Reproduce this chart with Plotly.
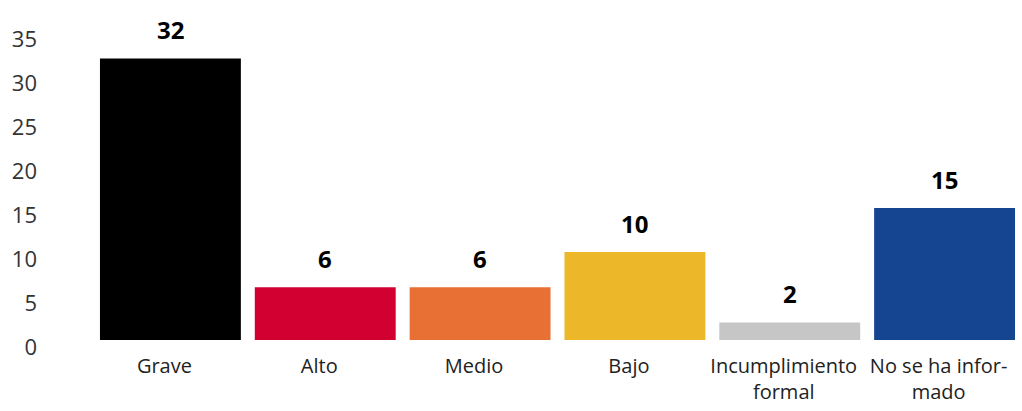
import plotly.graph_objects as go

categories = ["Grave", "Alto", "Medio", "Bajo", "Incumplimiento<br>formal", "No se ha infor-<br>mado"]
values = [32, 6, 6, 10, 2, 15]
colors = ["#000000", "#D10031", "#E87035", "#ECB82A", "#C6C6C6", "#154491"]
y_ticks = [0, 5, 10, 15, 20, 25, 30, 35]

fig = go.Figure(
    go.Bar(
        x=categories,
        y=values,
        marker=dict(color=colors, line=dict(width=0)),
        hoverinfo="skip",
    )
)

# value labels above bars
for cat, val in zip(categories, values):
    fig.add_annotation(
        x=cat, y=val,
        text="<b>%d</b>" % val,
        showarrow=False,
        yanchor="bottom",
        yshift=10,
        font=dict(family="Open Sans", size=24, color="#000000"),
    )

fig.update_layout(
    width=1022,
    height=411,
    margin=dict(l=93, r=0, t=32, b=71),
    bargap=0.09,
    plot_bgcolor="white",
    paper_bgcolor="white",
    showlegend=False,
    font=dict(family="Open Sans", color="#222222"),
)

fig.update_xaxes(
    showgrid=False,
    showline=False,
    ticks="",
    automargin=False,
    ticklabelstandoff=12,
    ticklabelshift=-6,
    tickfont=dict(size=20, color="#222222"),
)

fig.update_yaxes(
    range=[0, 35],
    tickvals=y_ticks,
    showgrid=False,
    zeroline=False,
    showline=False,
    ticks="",
    automargin=False,
    ticklabelstandoff=55,
    ticklabelshift=7,
    tickfont=dict(size=22, color="#333333"),
)

fig.write_html(
    "out.html",
    config={"displayModeBar": False},
    post_script="document.body.style.margin='0px';",
)
